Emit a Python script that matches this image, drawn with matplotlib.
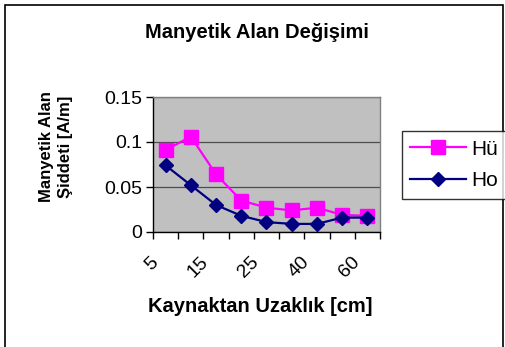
import matplotlib
matplotlib.use("Agg")
import matplotlib.pyplot as plt
from matplotlib.patches import Rectangle
from matplotlib.transforms import ScaledTranslation
import numpy as np

plt.rcParams['font.family'] = ['Liberation Sans', 'DejaVu Sans']

distances = ["5", "10", "15", "20", "25", "30", "40", "50", "60"]
hu = [0.091, 0.106, 0.064, 0.035, 0.027, 0.024, 0.027, 0.019, 0.018]
ho = [0.074, 0.052, 0.030, 0.018, 0.011, 0.009, 0.009, 0.016, 0.016]

W, H = 506, 347
fig = plt.figure(figsize=(W/100, H/100), dpi=100)
fig.patch.set_facecolor('white')

# outer frame
fig.patches.append(Rectangle((5/W, -0.05), (503-5)/W, 1 - 5/H + 0.05, transform=fig.transFigure,
                             fill=False, edgecolor='black', linewidth=1.2))

ax = fig.add_axes([153/W, 1-232/H, (380-153)/W, (232-97)/H])
ax.set_facecolor('#C0C0C0')
x = np.arange(len(distances))
ax.plot(x, hu, color='#FF00FF', lw=1.6, marker='s', ms=9.5, label='Hü', zorder=3)
ax.plot(x, ho, color='#000080', lw=1.6, marker='D', ms=7.5, label='Ho', zorder=4)

ax.set_xlim(-0.5, len(distances)-0.5)
ax.set_ylim(0, 0.15)
ax.set_yticks([0, 0.05, 0.1, 0.15])
ax.set_yticklabels(['0', '0.05', '0.1', '0.15'])
ax.yaxis.grid(True, color='#000000', lw=0.9, alpha=0.6)
ax.set_axisbelow(True)

ax.set_xticks(x[::2])
ax.set_xticklabels(distances[::2], rotation=45, ha='right', va='center', rotation_mode='anchor')
ax.set_xticks(np.arange(-0.5, len(distances)), minor=True)
ax.tick_params(axis='x', which='major', length=0, pad=20, labelsize=14)
ax.tick_params(axis='x', which='minor', length=5, width=1, color='black', direction='out')
ax.tick_params(axis='y', length=5, width=1, color='black', direction='out', labelsize=14, pad=3)
shift = ScaledTranslation(-10/100, 0, fig.dpi_scale_trans)
for lab in ax.get_xticklabels():
    lab.set_transform(lab.get_transform() + shift)

for s in ['top', 'right']:
    ax.spines[s].set_color('#808080')
    ax.spines[s].set_linewidth(1)
for s in ['left', 'bottom']:
    ax.spines[s].set_color('black')
    ax.spines[s].set_linewidth(1)

fig.text(257/W, 1-32/H, 'Manyetik Alan Değişimi', ha='center', va='center',
         fontsize=14.5, fontweight='bold')
fig.text(260/W, 1-307/H, 'Kaynaktan Uzaklık [cm]', ha='center', va='center',
         fontsize=14.5, fontweight='bold')
fig.text(56/W, 1-147/H, 'Manyetik Alan\nŞiddeti [A/m]', ha='center', va='center',
         rotation=90, fontsize=12, fontweight='bold', linespacing=1.35)

leg = fig.legend(loc='center', bbox_to_anchor=(454/W, 1-165/H), frameon=True,
                 fancybox=False, edgecolor='black', fontsize=15, handlelength=2.7,
                 borderpad=0.4, labelspacing=0.6, handletextpad=0.25, borderaxespad=0)
leg.get_frame().set_linewidth(1)

fig.savefig('out.png', dpi=100)
